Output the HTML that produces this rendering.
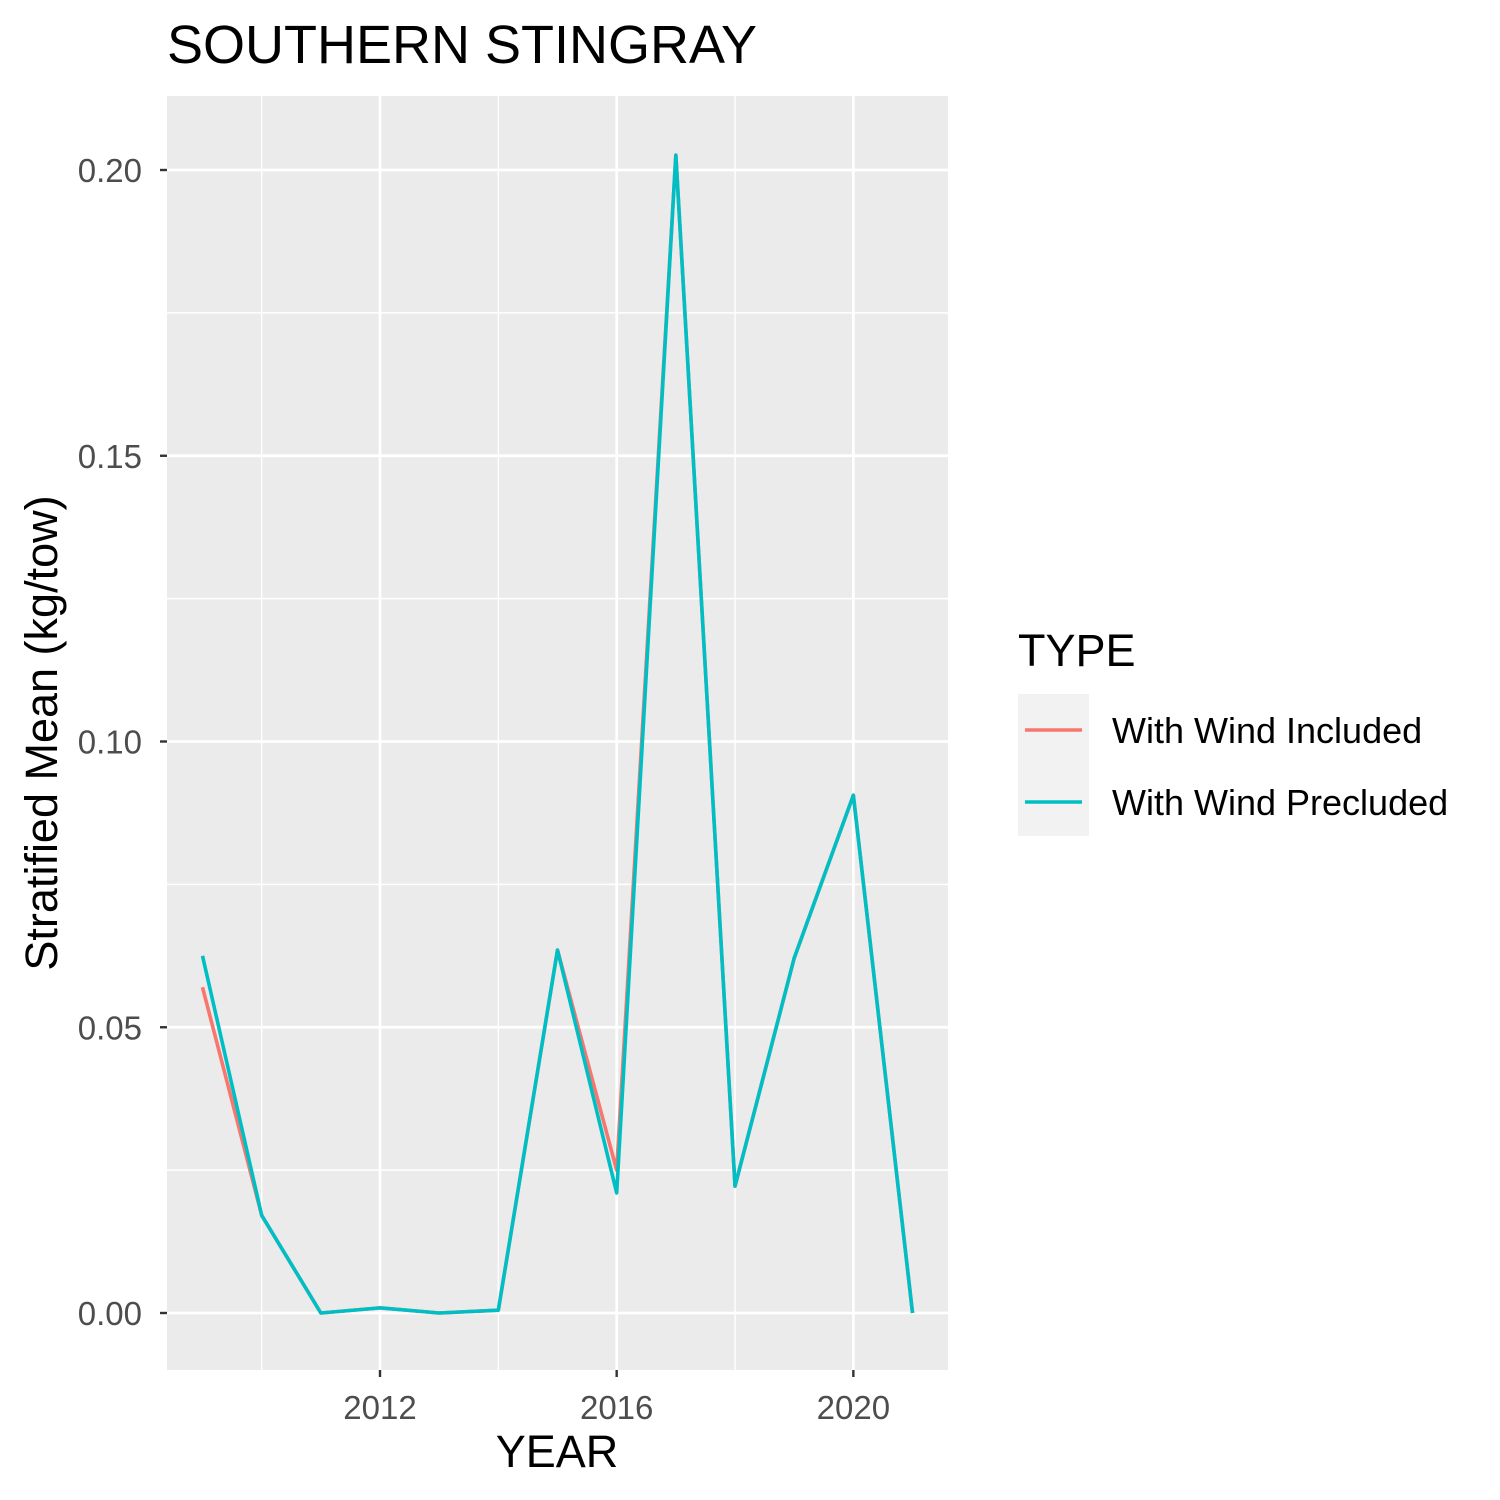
<!DOCTYPE html>
<html><head><meta charset="utf-8"><style>
html,body{margin:0;padding:0;background:#fff;}
svg{display:block;font-family:"Liberation Sans",Arial,sans-serif;}
</style></head><body>
<svg id="chart" width="1500" height="1500">
<text x="167" y="63" font-size="54" fill="#000">SOUTHERN STINGRAY</text>
<rect x="167" y="96" width="781" height="1274" fill="#ebebeb"/>
<g id="grid"></g>
<g id="series"></g>
<g id="axes"></g>
<text x="557" y="1467" font-size="45" text-anchor="middle" fill="#000">YEAR</text>
<text transform="translate(57,733) rotate(-90)" font-size="45" text-anchor="middle" fill="#000">Stratified Mean (kg/tow)</text>
<g>
<text x="1018" y="666" font-size="45" fill="#000">TYPE</text>
<rect x="1018" y="694" width="71" height="142" fill="#f2f2f2"/>
<line x1="1025" y1="730" x2="1082" y2="730" stroke="#F8766D" stroke-width="3.6"/>
<line x1="1025" y1="802" x2="1082" y2="802" stroke="#00BFC4" stroke-width="3.6"/>
<text x="1112" y="743" font-size="36" fill="#000">With Wind Included</text>
<text x="1112" y="815" font-size="36" fill="#000">With Wind Precluded</text>
</g>
</svg>
<script>
const years = [2009,2010,2011,2012,2013,2014,2015,2016,2017,2018,2019,2020,2021];
const includedValues = [0.0570,0.0171,0.0000,0.0009,0.0000,0.0005,0.0635,0.0250,0.2026,0.0222,0.0621,0.0906,0.0000];
const precludedValues = [0.0625,0.0171,0.0000,0.0009,0.0000,0.0005,0.0635,0.0210,0.2026,0.0222,0.0621,0.0906,0.0000];
const xTicks = [2012,2016,2020];
const xMinor = [2010,2014,2018];
const yTicks = [0,0.05,0.10,0.15,0.20];
const yTickLabels = ["0.00","0.05","0.10","0.15","0.20"];
const yMinor = [0.025,0.075,0.125,0.175];

const NS="http://www.w3.org/2000/svg";
const x = v => 380 + (v-2012)*59.17;
const y = v => 1313 - v*5715;
function mk(tag, attrs, parent){const e=document.createElementNS(NS,tag);for(const k in attrs)e.setAttribute(k,attrs[k]);parent.appendChild(e);return e;}
const grid=document.getElementById('grid'), axes=document.getElementById('axes'), series=document.getElementById('series');
yMinor.forEach(v=>{const l=mk('line',{x1:167,x2:948,y1:y(v),y2:y(v),stroke:'#fff','stroke-width':1.4},grid);

});
xMinor.forEach(v=>{const l=mk('line',{x1:x(v),x2:x(v),y1:96,y2:1370,stroke:'#fff','stroke-width':1.4},grid);

});
yTicks.forEach((v,i)=>{const l=mk('line',{x1:167,x2:948,y1:y(v),y2:y(v),stroke:'#fff','stroke-width':2.7},grid);


const t=mk('line',{x1:160,x2:167,y1:y(v),y2:y(v),stroke:'#333','stroke-width':2.4},axes);


const tx=mk('text',{x:142,y:y(v)+12,'font-size':33,fill:'#4d4d4d','text-anchor':'end'},axes);tx.textContent=yTickLabels[i];

});
xTicks.forEach(v=>{const l=mk('line',{x1:x(v),x2:x(v),y1:96,y2:1370,stroke:'#fff','stroke-width':2.7},grid);


const t=mk('line',{x1:x(v),x2:x(v),y1:1370,y2:1377,stroke:'#333','stroke-width':2.4},axes);


const tx=mk('text',{x:x(v),y:1419,'font-size':33,fill:'#4d4d4d','text-anchor':'middle'},axes);tx.textContent=v;

});
function line(vals,color,name){const p=mk('polyline',{points:vals.map((v,i)=>x(years[i])+','+y(v)).join(' '),fill:'none',stroke:color,'stroke-width':3.6,'stroke-linejoin':'round'},series);

}
line(includedValues,'#F8766D','line-with-wind-included');
line(precludedValues,'#00BFC4','line-with-wind-precluded');
</script>
</body></html>
